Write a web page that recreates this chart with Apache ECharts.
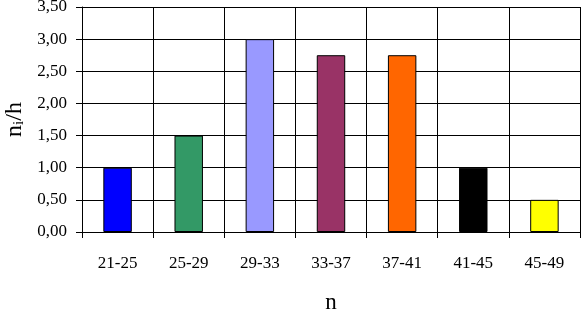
<!DOCTYPE html>
<html><head><meta charset="utf-8">
<script src="https://cdn.jsdelivr.net/npm/echarts@6/dist/echarts.min.js"></script>
<style>html,body{margin:0;padding:0;background:#fff}#c{width:586px;height:317px}</style>
</head><body><div id="c"></div>
<script>
var categories = ['21-25','25-29','29-33','33-37','37-41','41-45','45-49'];
var values = [1.0, 1.5, 3.0, 2.75, 2.75, 1.0, 0.5];
var colors = ['#0000ff','#339966','#9999ff','#993366','#ff6600','#000000','#ffff00'];
var yTicks = [0, 0.5, 1, 1.5, 2, 2.5, 3, 3.5];

var chart = echarts.init(document.getElementById('c'));
var font = '"Liberation Serif", "Times New Roman", serif';
chart.setOption({
  animation: false,
  grid: {left: 82, right: 6, top: 7, bottom: 85, containLabel: false, outerBoundsMode: 'none'},
  xAxis: {
    type: 'category', data: categories,
    name: 'n', nameLocation: 'middle', nameGap: 59,
    nameTextStyle: {fontFamily: font, fontSize: 23, color: '#000'},
    axisLine: {show: true, lineStyle: {color: '#000', width: 1}},
    axisTick: {show: true, length: 6, alignWithLabel: false, lineStyle: {color: '#000'}},
    axisLabel: {fontFamily: font, fontSize: 17, color: '#000', margin: 23},
    splitLine: {show: true, lineStyle: {color: '#000', width: 1}}
  },
  yAxis: {
    type: 'value', min: 0, max: 3.5, interval: 0.5,
    name: '{a|n}{b|i}{a|/h}', nameLocation: 'middle', nameGap: 55, nameRotate: 90,
    nameTextStyle: {rich: {
      a: {fontFamily: font, fontSize: 24, color: '#000'},
      b: {fontFamily: font, fontSize: 15, color: '#000', padding: [9,0,0,0]}
    }},
    axisLine: {show: true, lineStyle: {color: '#000', width: 1}},
    axisTick: {show: true, length: 6, lineStyle: {color: '#000'}},
    axisLabel: {fontFamily: font, fontSize: 17, color: '#000', margin: 15,
      formatter: function(v){ return v.toFixed(2).replace('.', ','); }},
    splitLine: {show: true, lineStyle: {color: '#000', width: 1}}
  },
  series: [{
    type: 'bar', barWidth: '40%',
    data: values.map(function(v, i){ return {value: v, itemStyle: {color: colors[i]}}; }),
    itemStyle: {borderColor: '#000', borderWidth: 1}
  }]
});
</script></body></html>
